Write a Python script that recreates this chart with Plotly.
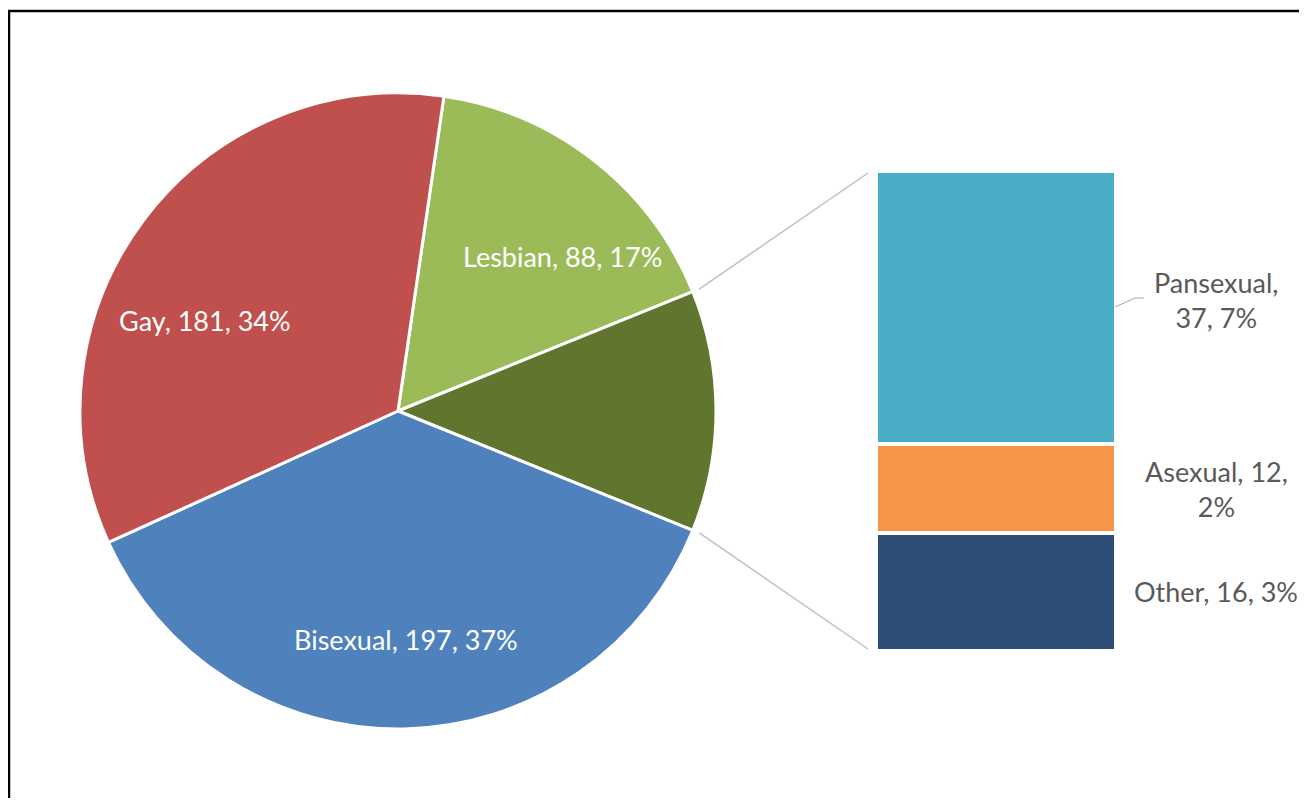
import math
import plotly.graph_objects as go

# ---------------- data ----------------
pie_labels = ["Lesbian", "Other", "Bisexual", "Gay"]
pie_values = [88, 65, 197, 181]          # "Other" = sum of bar categories
pie_colors = ["#9BBB59", "#60762F", "#4F81BD", "#C0504D"]

bar_labels = ["Other", "Asexual", "Pansexual"]   # bottom -> top
bar_values = [16, 12, 37]
bar_colors = ["#2C4D75", "#F79646", "#4BACC6"]

total = sum(pie_values)

# ---------------- geometry (screen pixels) ----------------
OFF = 8                      # page body margin
W, H = 1307 - 2 * OFF, 806 - 2 * OFF
cx, cy, R = 398, 411, 318            # pie centre / radius
bx0, bx1, by0, by1 = 876, 1116, 171, 651   # bar block box
label_x = 1216
# label placement inside slices: (angle in degrees clockwise from 12 o'clock, radius fraction)
label_pos = {"Gay": (295, 0.67), "Lesbian": (46.8, 0.71), "Bisexual": (178, 0.72)}


def px(x):
    return (x - OFF) / W


def py(y):
    return 1 - (y - OFF) / H


# Excel pie-of-bar: the aggregated slice is centred at 3 o'clock
other_ang = 360 * pie_values[1] / total
les_ang = 360 * pie_values[0] / total
rotation = 90 - other_ang / 2 - les_ang

FONT = "Lato"
FS = 27

fig = go.Figure()
fig.add_trace(go.Pie(
    labels=pie_labels, values=pie_values, textinfo="none",
    marker=dict(colors=pie_colors, line=dict(color="white", width=3)),
    sort=False, direction="clockwise", rotation=rotation,
    domain=dict(x=[px(cx - R), px(cx + R)], y=[py(cy + R), py(cy - R)]),
    showlegend=False, hoverinfo="label+value+percent",
))

# slice labels
for lab, v in zip(pie_labels, pie_values):
    if lab not in label_pos:
        continue
    ang, frac = label_pos[lab]
    a = math.radians(ang)
    lx = cx + frac * R * math.sin(a)
    ly = cy - frac * R * math.cos(a)
    fig.add_annotation(x=px(lx), y=py(ly), xref="paper", yref="paper",
                       text=f"{lab}, {v}, {round(100 * v / total)}%",
                       showarrow=False, xanchor="center", yanchor="middle",
                       font=dict(family=FONT, size=FS, color="white"))

for lab, v, c in zip(bar_labels, bar_values, bar_colors):
    fig.add_trace(go.Bar(
        x=[0], y=[v], width=[1], name=lab,
        marker=dict(color=c, line=dict(color="white", width=4)),
        showlegend=False, xaxis="x", yaxis="y",
    ))

bar_total = sum(bar_values)

# labels for bar segments
cum = 0
for lab, v in zip(bar_labels, bar_values):
    mid = cum + v / 2
    cum += v
    pct = round(100 * v / total)
    if lab == "Pansexual":
        txt = f"{lab},<br>{v}, {pct}%"
        yy = mid + 1
    elif lab == "Asexual":
        txt = f"{lab}, {v},<br>{pct}%"
        yy = mid
    else:
        txt = f"{lab}, {v}, {pct}%"
        yy = mid
    fig.add_annotation(x=px(label_x), xref="paper", y=yy, yref="y",
                       text=txt, showarrow=False, xanchor="center",
                       yanchor="middle",
                       font=dict(family=FONT, size=FS, color="#595959"))

# connector lines from the aggregated slice to the bar block
a_top = math.radians(rotation + les_ang)
a_bot = math.radians(rotation + les_ang + other_ang)
rr = R + 7
shapes = []
for a, yb in ((a_top, by0 + 2), (a_bot, by1 - 2)):
    x0 = cx + rr * math.sin(a)
    y0 = cy - rr * math.cos(a)
    shapes.append(dict(type="line", xref="paper", yref="paper",
                       x0=px(x0), y0=py(y0), x1=px(bx0 - 8), y1=py(yb),
                       line=dict(color="#BFBFBF", width=1.5)))

# leader line for Pansexual label
shapes.append(dict(type="path", xref="paper", yref="paper",
                   path=f"M {px(1115)} {py(307)} L {px(1135)} {py(298)} L {px(1144)} {py(298)}",
                   line=dict(color="#A6A6A6", width=1)))

# outer frame
shapes.append(dict(type="rect", xref="paper", yref="paper",
                   x0=px(9), y0=py(830), x1=px(1330), y1=py(11),
                   line=dict(color="black", width=2.5), fillcolor="rgba(0,0,0,0)"))

fig.update_layout(
    width=W, height=H, autosize=False,
    margin=dict(l=0, r=0, t=0, b=0),
    paper_bgcolor="white", plot_bgcolor="white",
    barmode="stack", bargap=0,
    xaxis=dict(domain=[px(bx0), px(bx1)], range=[-0.5, 0.5], visible=False,
               fixedrange=True),
    yaxis=dict(domain=[py(by1), py(by0)], range=[0, bar_total], visible=False,
               fixedrange=True),
    shapes=shapes,
    font=dict(family=FONT),
)

fig.write_html("out.html")
